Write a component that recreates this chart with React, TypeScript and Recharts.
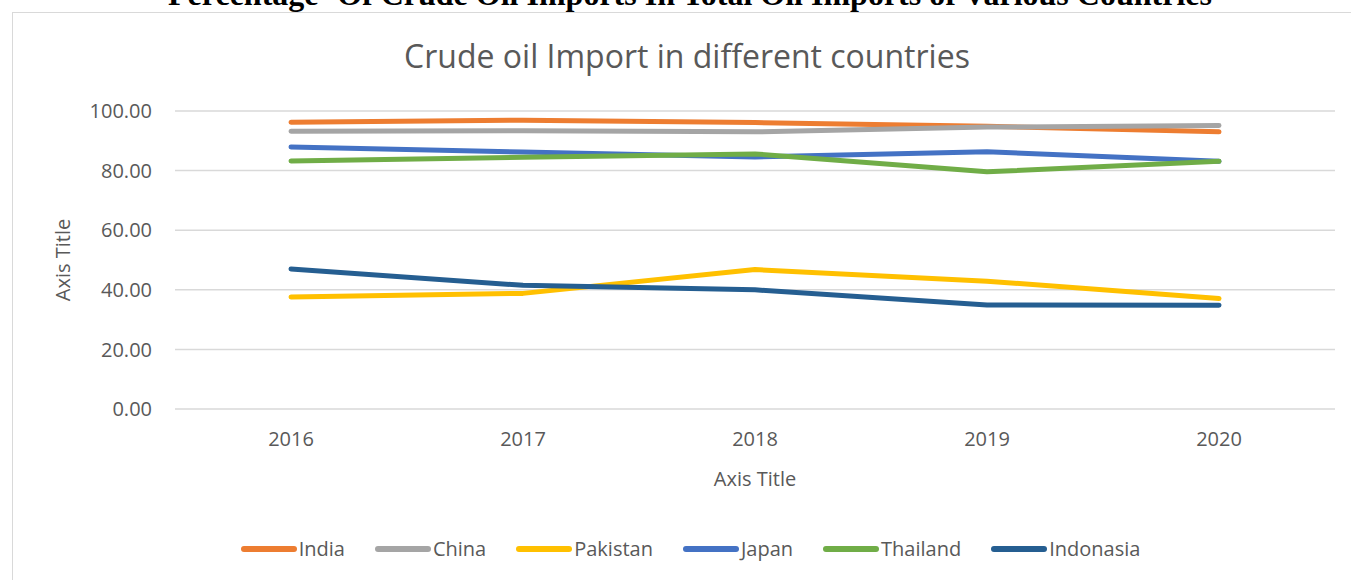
import React from 'react';
import { LineChart, Line, XAxis, YAxis, CartesianGrid, Legend, Label } from 'recharts';

const years = ['2016', '2017', '2018', '2019', '2020'];
const india = [96.2, 96.9, 96.1, 94.9, 93.0];
const china = [93.2, 93.4, 93.0, 94.6, 95.1];
const pakistan = [37.6, 38.8, 46.8, 42.9, 37.1];
const japan = [87.9, 86.2, 84.6, 86.3, 83.1];
const thailand = [83.2, 84.5, 85.6, 79.6, 83.1];
const indonasia = [47.0, 41.5, 40.0, 34.9, 34.8];
const yTicks = [0, 20, 40, 60, 80, 100];

const series = [
  { key: 'India', values: india, color: '#ED7D31' },
  { key: 'China', values: china, color: '#A5A5A5' },
  { key: 'Pakistan', values: pakistan, color: '#FFC000' },
  { key: 'Japan', values: japan, color: '#4472C4' },
  { key: 'Thailand', values: thailand, color: '#70AD47' },
  { key: 'Indonasia', values: indonasia, color: '#255E91' },
];

const data = years.map((year, i) => {
  const row: Record<string, string | number> = { year };
  series.forEach(s => { row[s.key] = s.values[i]; });
  return row;
});

const FONT = '"Open Sans", sans-serif';
const TEXT = '#595959';

const LegendContent = () => (
  <div style={{ display: 'flex', justifyContent: 'center', alignItems: 'center', gap: 29, fontFamily: FONT, fontSize: 20, color: TEXT }}>
    {series.map(s => (
      <div key={s.key} style={{ display: 'flex', alignItems: 'center' }}>
        <svg width={58} height={8} style={{ display: 'block' }}>
          <line x1={4} y1={4} x2={54} y2={4} stroke={s.color} strokeWidth={6} strokeLinecap="round" />
        </svg>
        <span style={{ marginLeft: 1 }}>{s.key}</span>
      </div>
    ))}
  </div>
);

const YTitle = (props: any) => {
  const vb = props.viewBox || {};
  const cx = vb.x + 62;
  const cy = vb.y + vb.height / 2;
  return (
    <text x={cx} y={cy} transform={`rotate(-90 ${cx} ${cy})`} textAnchor="middle" dominantBaseline="central"
      fill={TEXT} fontSize={20} fontFamily={FONT}>
      Axis Title
    </text>
  );
};

export default function App() {
  return (
    <div style={{ position: 'absolute', left: 0, top: 0, width: 1351, height: 580, overflow: 'hidden', background: '#fff' }}>
      <div style={{ position: 'absolute', left: 0, top: -24, width: 1380, textAlign: 'center', fontFamily: '"Liberation Serif", serif', fontWeight: 'bold', fontSize: 32, lineHeight: '36px', color: '#000', whiteSpace: 'nowrap' }}>
        Percentage ‘Of Crude Oil Imports In Total Oil Imports of Various Countries
      </div>
      <div style={{ position: 'absolute', left: 12, top: 12, width: 1350, height: 600, border: '1px solid #d9d9d9', boxSizing: 'border-box' }} />
      <div style={{ position: 'absolute', left: 0, top: 34, width: 1374, textAlign: 'center', fontFamily: FONT, fontSize: 32, color: TEXT, lineHeight: '44px' }}>
        Crude oil Import in different countries
      </div>
      <div style={{ position: 'absolute', left: 0, top: 0 }}>
        <LineChart width={1351} height={580} data={data} margin={{ top: 111, right: 16, bottom: 0, left: 0 }}>
          <CartesianGrid vertical={false} stroke="#d9d9d9" strokeWidth={1.5} />
          <XAxis dataKey="year" height={171} axisLine={false} tickLine={false} tickSize={0} tickMargin={23}
            padding={{ left: 116, right: 116 }}
            tick={{ fontSize: 20, fill: TEXT, fontFamily: FONT }} interval={0}>
            <Label value="Axis Title" position="insideTop" offset={63} fill={TEXT} fontSize={20} fontFamily={FONT} />
          </XAxis>
          <YAxis width={175} domain={[0, 100]} ticks={yTicks} axisLine={false} tickLine={false} tickSize={0} tickMargin={23}
            tickFormatter={(v: number) => v.toFixed(2)} tick={{ fontSize: 20, fill: TEXT, fontFamily: FONT }}>
            <Label content={YTitle} />
          </YAxis>
          {series.map(s => (
            <Line key={s.key} dataKey={s.key} stroke={s.color} strokeWidth={5} strokeLinecap="round" strokeLinejoin="round"
              dot={false} activeDot={false} isAnimationActive={false} type="linear" />
          ))}
          <Legend layout="horizontal" verticalAlign="middle" align="center" content={LegendContent}
            wrapperStyle={{ top: 535, left: 0, width: 1380 }} />
        </LineChart>
      </div>
    </div>
  );
}
